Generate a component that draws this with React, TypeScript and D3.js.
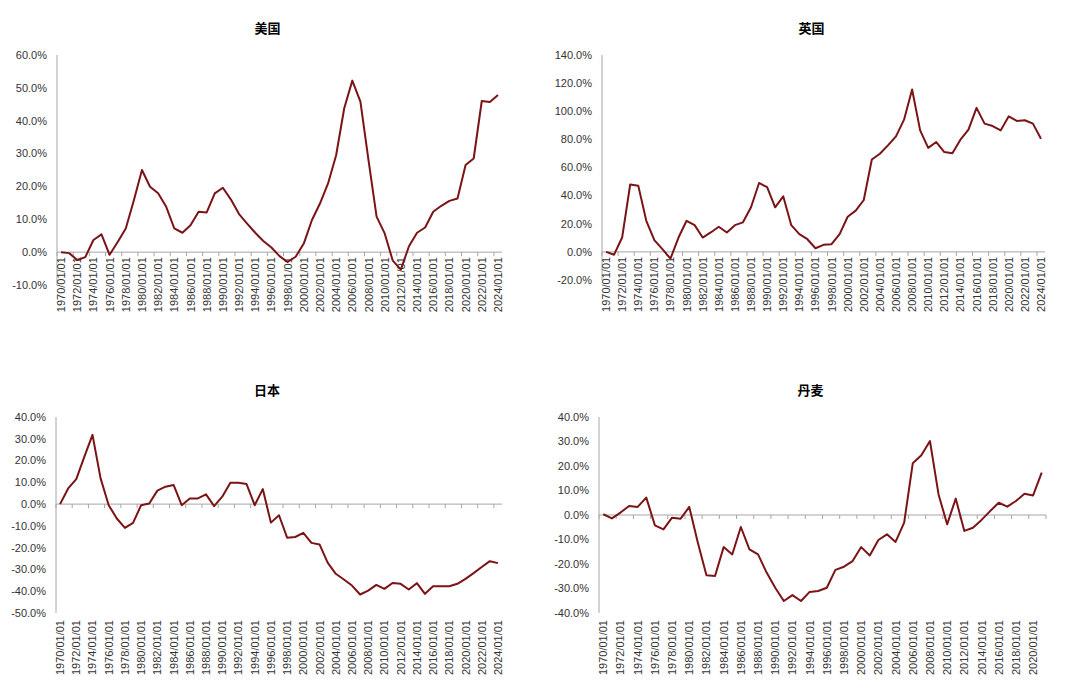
import React, { useEffect, useRef } from "react";
import * as d3 from "d3";

const years = d3.range(1970, 2025).map((y) => `${y}/01/01`);
const yearsDK = d3.range(1970, 2022).map((y) => `${y}/01/01`);

const usValues = [
  0.0, -0.3, -2.4, -1.5, 3.7, 5.4, -0.8, 3.1, 7.2, 15.8, 25.0, 19.9, 17.9, 13.8, 7.2, 5.9, 8.2, 12.3, 12.1,
  17.9, 19.6, 16.0, 11.6, 8.7, 5.9, 3.4, 1.4, -1.2, -3.0, -1.4, 2.6, 9.7, 14.8, 20.9, 29.5, 43.8, 52.2, 45.8,
  28.0, 10.8, 5.7, -2.6, -5.3, 1.8, 5.9, 7.5, 12.3, 14.1, 15.6, 16.3, 26.5, 28.5, 46.0, 45.7, 47.8,
];
const ukValues = [
  0.0, -2.0, 10.2, 47.9, 47.1, 22.1, 8.3, 1.9, -4.8, 10.2, 22.1, 19.0, 10.2, 13.8, 17.9, 13.8, 19.0, 21.0,
  31.7, 49.0, 46.0, 31.7, 39.5, 19.0, 12.6, 9.0, 2.6, 5.0, 5.5, 12.6, 25.0, 29.3, 36.9, 65.7, 69.8, 75.7,
  82.1, 94.0, 115.5, 86.4, 74.0, 78.1, 71.0, 70.2, 79.8, 86.9, 102.4, 91.2, 89.5, 86.4, 96.4, 93.1, 93.6,
  91.2, 80.5,
];
const jpValues = [
  0.0, 7.2, 11.5, 21.8, 31.8, 11.8, -0.5, -6.6, -10.9, -8.6, -0.5, 0.3, 6.2, 8.0, 8.8, -0.5, 2.6, 2.6, 4.5,
  -0.9, 3.4, 9.8, 9.8, 9.2, -0.5, 6.9, -8.5, -5.1, -15.4, -15.1, -13.2, -17.8, -18.5, -26.9, -32.0, -34.6,
  -37.4, -41.5, -39.7, -37.1, -38.9, -36.2, -36.6, -39.2, -36.3, -41.2, -37.7, -37.7, -37.7, -36.6, -34.3,
  -31.7, -28.9, -26.2, -27.1,
];
const dkValues = [
  0.3, -1.4, 1.0, 3.7, 3.3, 7.1, -4.2, -5.9, -1.1, -1.5, 3.3, -11.3, -24.6, -24.9, -13.1, -16.1, -4.9, -14.0,
  -16.1, -23.5, -29.7, -35.1, -32.7, -35.1, -31.4, -31.0, -29.7, -22.4, -21.1, -18.8, -13.1, -16.5, -10.2,
  -7.9, -11.0, -3.1, 21.1, 24.4, 30.2, 8.4, -3.8, 6.7, -6.5, -5.2, -2.0, 1.6, 5.0, 3.4, 5.7, 8.7, 8.0, 17.3,
];

const usTicks = [60, 50, 40, 30, 20, 10, 0, -10];
const ukTicks = [140, 120, 100, 80, 60, 40, 20, 0, -20];
const jpTicks = [40, 30, 20, 10, 0, -10, -20, -30, -40, -50];
const dkTicks = [40, 30, 20, 10, 0, -10, -20, -30, -40];

interface Panel {
  title: string;
  cats: string[];
  values: number[];
  ticks: number[];
  left: number;
  right: number;
  top: number;
  bottom: number;
  titleY: number;
  labelsLow: boolean;
}

const panels: Panel[] = [
  { title: "美国", cats: years, values: usValues, ticks: usTicks, left: 57, right: 502, top: 55, bottom: 285, titleY: 33, labelsLow: false },
  { title: "英国", cats: years, values: ukValues, ticks: ukTicks, left: 602, right: 1045, top: 55, bottom: 280, titleY: 33, labelsLow: false },
  { title: "日本", cats: years, values: jpValues, ticks: jpTicks, left: 56, right: 502, top: 417, bottom: 613, titleY: 395, labelsLow: true },
  { title: "丹麦", cats: yearsDK, values: dkValues, ticks: dkTicks, left: 599, right: 1046, top: 417, bottom: 613, titleY: 395, labelsLow: true },
];

const font = "'Liberation Sans', Arial, sans-serif";

const App: React.FC = () => {
  const svgRef = useRef<SVGSVGElement>(null);

  useEffect(() => {
    if (!svgRef.current) return;
    const svg = d3.select(svgRef.current);
    svg.selectAll("*").remove();

    panels.forEach((p) => {
      const g = svg.append("g");
      const x = d3.scaleBand<string>().domain(p.cats).range([p.left, p.right]).padding(0);
      const y = d3
        .scaleLinear()
        .domain([d3.min(p.ticks)!, d3.max(p.ticks)!])
        .range([p.bottom, p.top]);
      const cx = (d: string) => x(d)! + x.bandwidth() / 2;

      g.append("text")
        .attr("x", (p.left + p.right) / 2 - 12)
        .attr("y", p.titleY)
        .attr("text-anchor", "middle")
        .attr("font-family", "'Noto Sans CJK SC', sans-serif")
        .attr("font-weight", "bold")
        .attr("font-size", 13)
        .attr("fill", "#000")
        .text(p.title);

      // y axis
      g.append("line")
        .attr("x1", p.left)
        .attr("x2", p.left)
        .attr("y1", p.top)
        .attr("y2", p.bottom)
        .attr("stroke", "#a6a6a6");

      g.selectAll(".ytick")
        .data(p.ticks)
        .enter()
        .append("text")
        .attr("x", p.left - 10)
        .attr("y", (d) => y(d))
        .attr("dy", "0.35em")
        .attr("text-anchor", "end")
        .attr("font-family", font)
        .attr("font-size", 11)
        .attr("fill", "#333")
        .text((d) => `${d.toFixed(1)}%`);

      // x axis at zero
      const y0 = y(0);
      g.append("line")
        .attr("x1", p.left)
        .attr("x2", p.right)
        .attr("y1", y0)
        .attr("y2", y0)
        .attr("stroke", "#a6a6a6");

      const tickIdx = d3.range(0, p.cats.length + 1, 2);
      g.selectAll(".xtick")
        .data(tickIdx)
        .enter()
        .append("line")
        .attr("x1", (i) => p.left + i * x.bandwidth())
        .attr("x2", (i) => p.left + i * x.bandwidth())
        .attr("y1", y0)
        .attr("y2", y0 + 4)
        .attr("stroke", "#a6a6a6");

      const labelTop = p.labelsLow ? p.bottom + 7 : y0 + 5;
      const labelCats = p.cats.filter((_, i) => i % 2 === 0);
      g.selectAll(".xlabel")
        .data(labelCats)
        .enter()
        .append("text")
        .attr("transform", (d) => `translate(${cx(d) + 4},${labelTop}) rotate(-90)`)
        .attr("text-anchor", "end")
        .attr("font-family", font)
        .attr("font-size", 11)
        .attr("fill", "#333")
        .text((d) => d);

      const line = d3
        .line<number>()
        .x((_, i) => cx(p.cats[i]))
        .y((d) => y(d));

      g.append("path")
        .datum(p.values)
        .attr("d", line)
        .attr("fill", "none")
        .attr("stroke", "#7a1416")
        .attr("stroke-width", 2)
        .attr("stroke-linejoin", "round");
    });
  }, []);

  return (
    <svg
      ref={svgRef}
      width={1080}
      height={689}
      style={{ position: "absolute", left: 0, top: 0, background: "#fff" }}
    />
  );
};

export default App;
